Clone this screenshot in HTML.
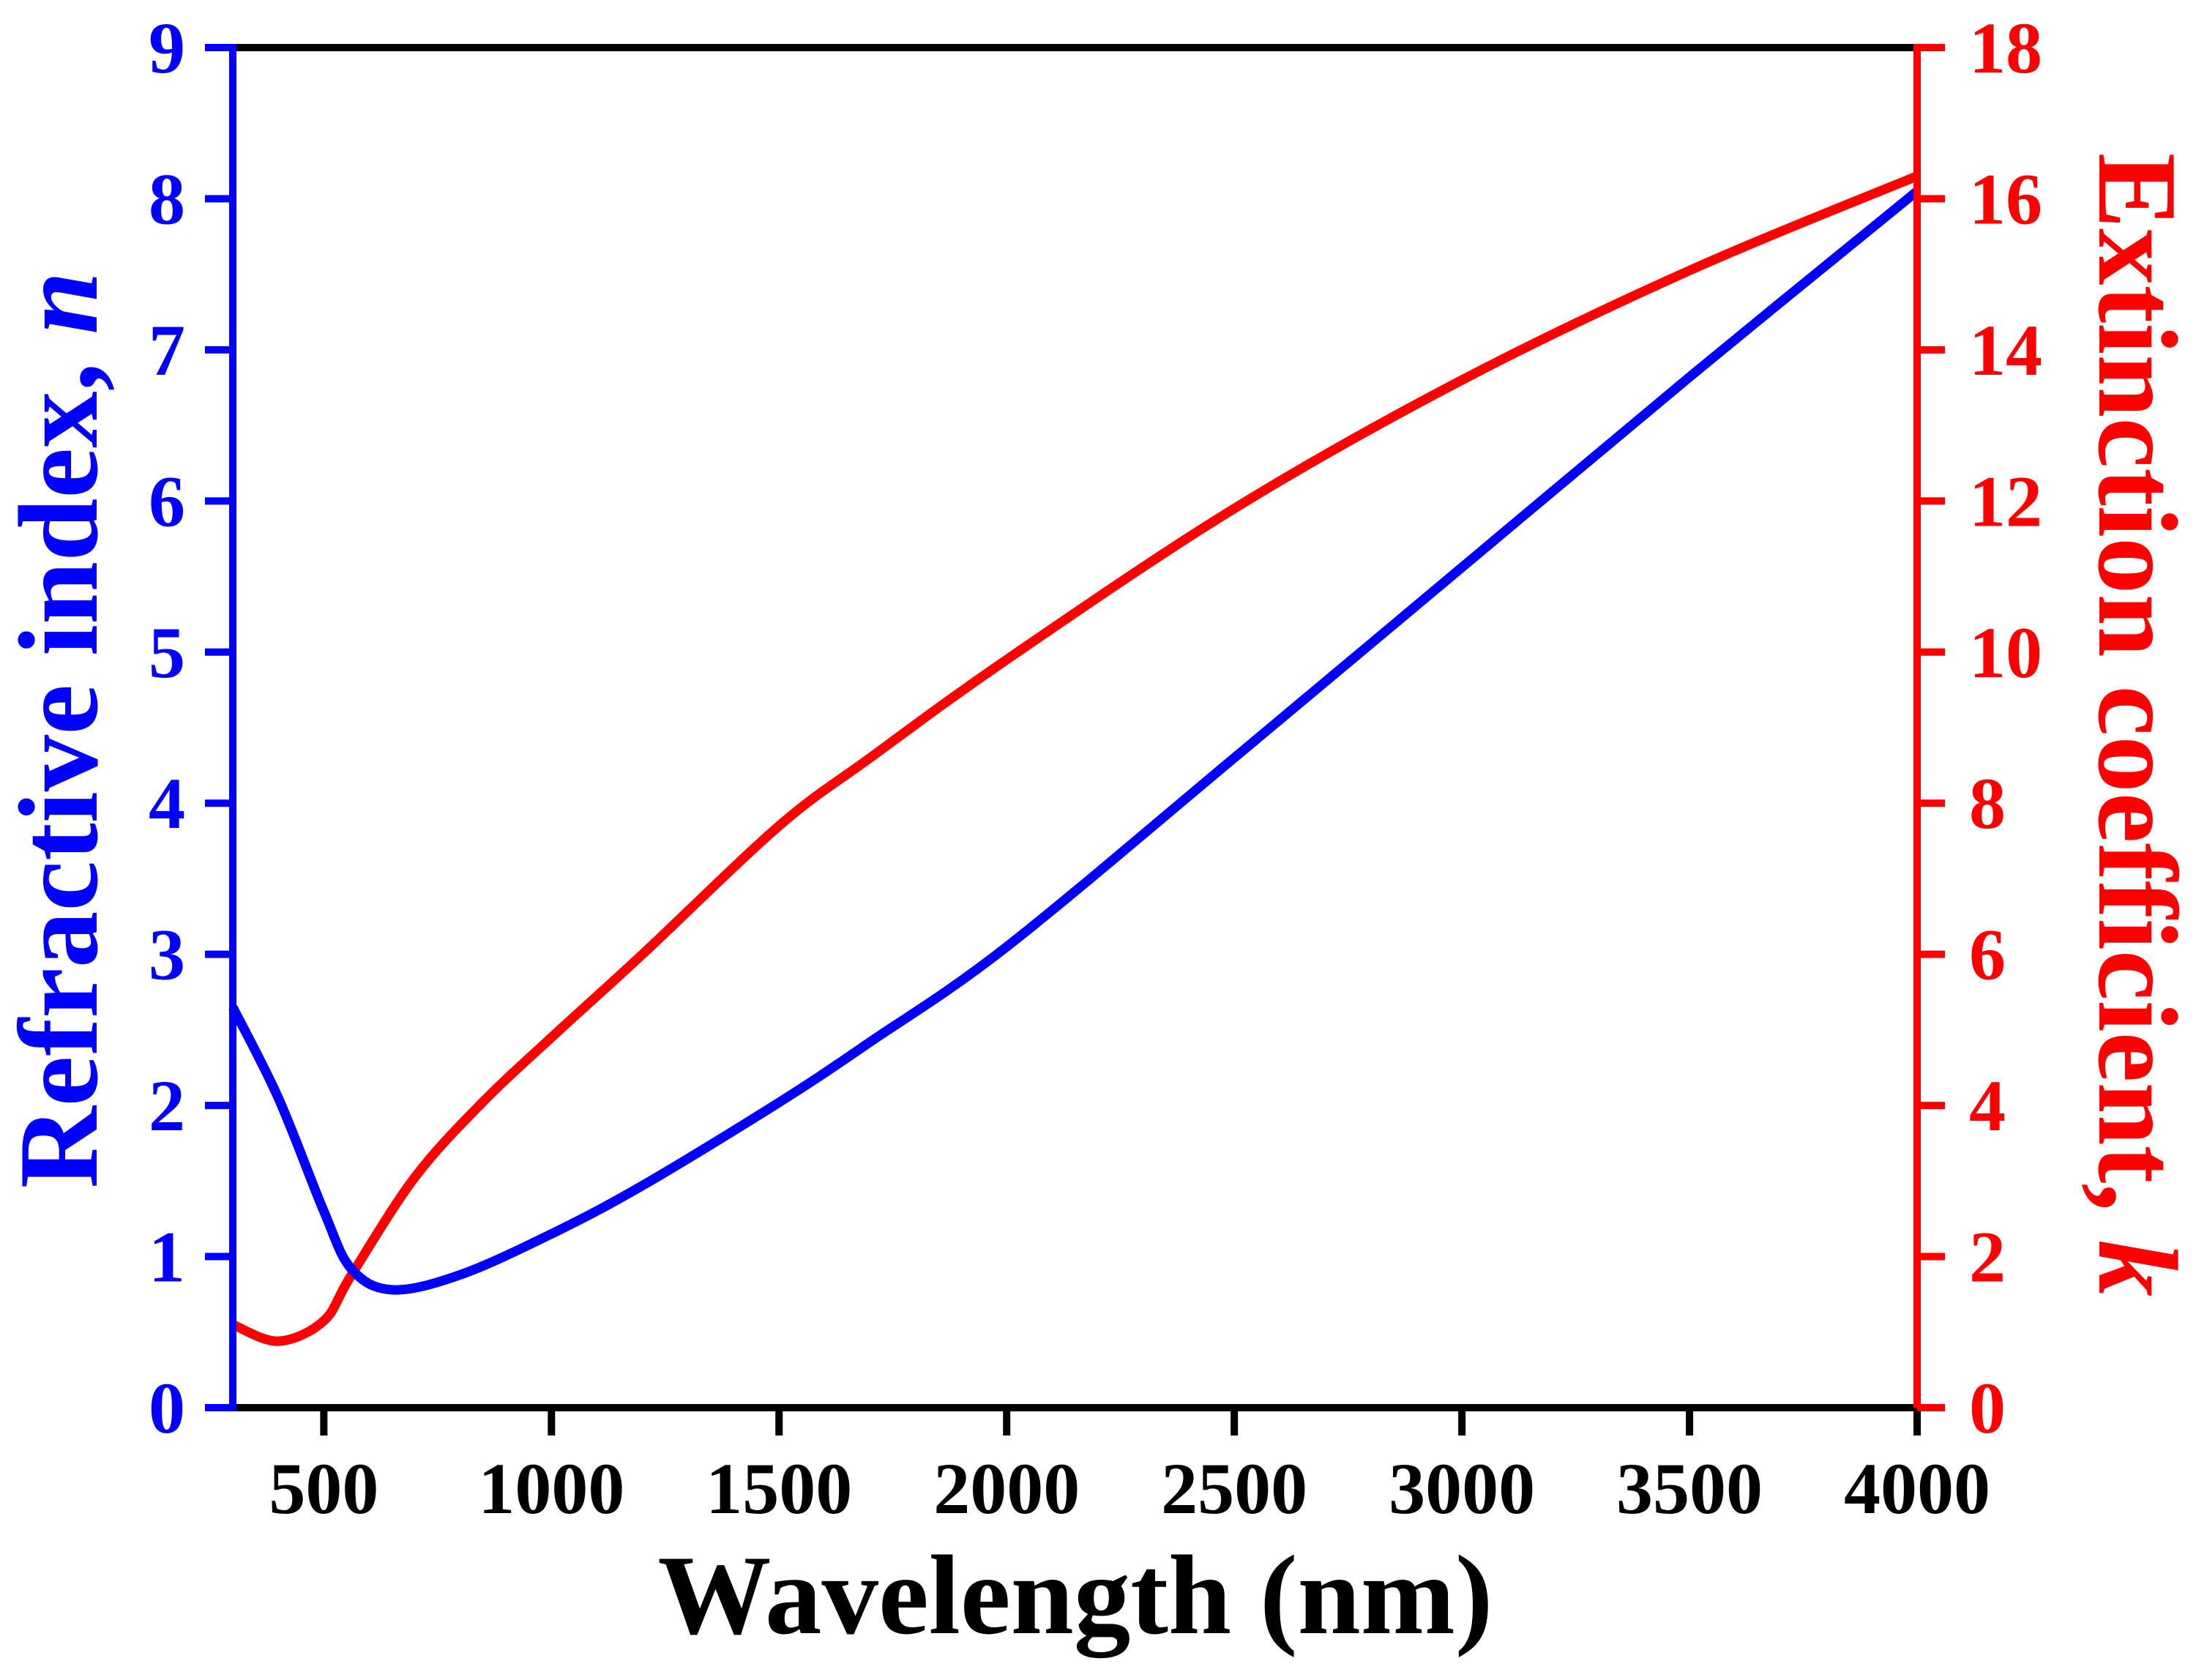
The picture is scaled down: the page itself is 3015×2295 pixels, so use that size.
<!DOCTYPE html>
<html><head><meta charset="utf-8"><style>
html,body{margin:0;padding:0;background:#fff;}
svg{display:block;}
text{font-family:"Liberation Serif",serif;font-weight:bold;}
</style></head><body>
<svg id="chart" width="3015" height="2295" viewBox="0 0 3015 2295" xmlns="http://www.w3.org/2000/svg">
<g id="curves"></g>
<g id="axes"></g>
<text x="1469" y="2231" font-size="155" text-anchor="middle" fill="#000">Wavelength (nm)</text>
<text transform="translate(132,997) rotate(-90)" font-size="155" text-anchor="middle" fill="#00f">Refractive index, <tspan font-style="italic">n</tspan></text>
<text transform="translate(2868,990) rotate(90)" font-size="155" text-anchor="middle" fill="#f00">Extinction coefficient, <tspan font-style="italic">k</tspan></text>
</svg>
<script>
const wavelengths=[300,400,500,560,650,800,1000,1200,1500,1700,2000,2500,3000,3500,4000];
const nValues=[2.65,2.05,1.3,0.92,0.78,0.88,1.15,1.47,2.02,2.42,3.05,4.3,5.56,6.82,8.05];
const kWavelengths=[300,400,500,560,700,850,1000,1200,1500,1700,2000,2500,3000,3500,4000];
const kValues=[1.1,0.88,1.15,1.75,3.05,4.05,4.9,6.0,7.7,8.6,9.9,11.9,13.6,15.05,16.3];
const xTicks=[500,1000,1500,2000,2500,3000,3500,4000];
const nTicks=[0,1,2,3,4,5,6,7,8,9];
const kTicks=[0,2,4,6,8,10,12,14,16,18];
const PL=318,PR=2619,PT=65,PB=1923;
const xMin=300,xMax=4000,nMax=9,kMax=18;
function sx(v){return PL+(v-xMin)/(xMax-xMin)*(PR-PL);}
function syn(v){return PB-v/nMax*(PB-PT);}
function syk(v){return PB-v/kMax*(PB-PT);}
const NS="http://www.w3.org/2000/svg";
function mk(tag,attrs,parent){const e=document.createElementNS(NS,tag);for(const k in attrs)e.setAttribute(k,attrs[k]);parent.appendChild(e);return e;}
function smooth(pts){let d="M"+pts[0][0]+","+pts[0][1];for(let i=0;i<pts.length-1;i++){const p0=pts[Math.max(0,i-1)],p1=pts[i],p2=pts[i+1],p3=pts[Math.min(pts.length-1,i+2)];const c1=[p1[0]+(p2[0]-p0[0])/6,p1[1]+(p2[1]-p0[1])/6];const c2=[p2[0]-(p3[0]-p1[0])/6,p2[1]-(p3[1]-p1[1])/6];d+=" C"+c1[0]+","+c1[1]+" "+c2[0]+","+c2[1]+" "+p2[0]+","+p2[1];}return d;}
const cg=document.getElementById('curves');
const ax=document.getElementById('axes');
const kp=mk('path',{d:smooth(kWavelengths.map((w,i)=>[sx(w),syk(kValues[i])])),fill:'none',stroke:'#f00','stroke-width':13,'stroke-linejoin':'round'},cg);


const np=mk('path',{d:smooth(wavelengths.map((w,i)=>[sx(w),syn(nValues[i])])),fill:'none',stroke:'#00f','stroke-width':13,'stroke-linejoin':'round'},cg);


const topAxis=mk('line',{x1:PL,y1:PT,x2:PR,y2:PT,stroke:'#000','stroke-width':10},ax);


const botAxis=mk('line',{x1:PL,y1:PB,x2:PR,y2:PB,stroke:'#000','stroke-width':10},ax);


const leftAxis=mk('line',{x1:PL,y1:PT-5,x2:PL,y2:PB+5,stroke:'#00f','stroke-width':10},ax);


const rightAxis=mk('line',{x1:PR,y1:PT-5,x2:PR,y2:PB+5,stroke:'#f00','stroke-width':10},ax);


xTicks.forEach(v=>{const x=sx(v);
const t=mk('line',{x1:x,y1:PB,x2:x,y2:PB+38,stroke:'#000','stroke-width':10},ax);


const lb=mk('text',{x:x,y:2067,'font-size':100,'text-anchor':'middle',fill:'#000'},ax);lb.textContent=v;

});
nTicks.forEach(v=>{const y=syn(v);
const t=mk('line',{x1:PL-38,y1:y,x2:PL,y2:y,stroke:'#00f','stroke-width':10},ax);


const lb=mk('text',{x:253,y:y+34,'font-size':100,'text-anchor':'end',fill:'#00f'},ax);lb.textContent=v;

});
kTicks.forEach(v=>{const y=syk(v);
const t=mk('line',{x1:PR,y1:y,x2:PR+38,y2:y,stroke:'#f00','stroke-width':10},ax);


const lb=mk('text',{x:2690,y:y+34,'font-size':100,'text-anchor':'start',fill:'#f00'},ax);lb.textContent=v;

});
</script>
</body></html>
